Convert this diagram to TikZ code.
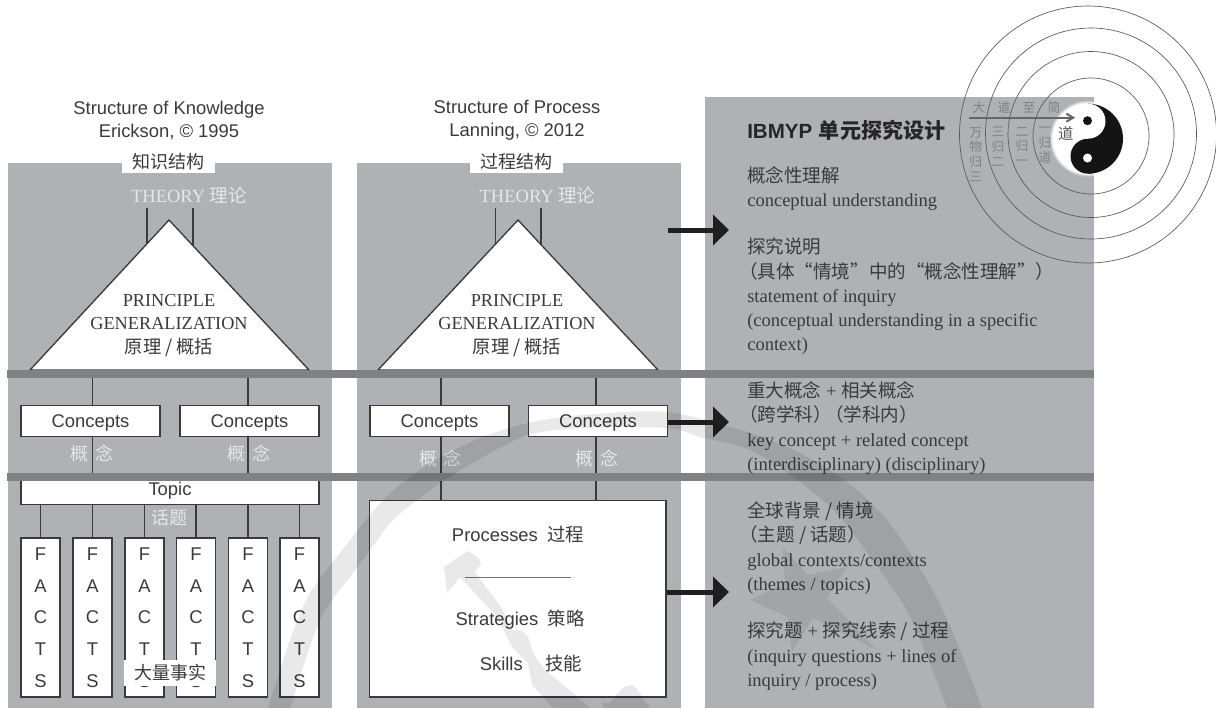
\documentclass[tikz,border=0pt]{standalone}
\usepackage{fontspec}
\usepackage{xcolor}
\usetikzlibrary{arrows.meta,positioning}
\setmainfont{Liberation Serif}
\setsansfont{Liberation Sans}
\newfontfamily\cnfont{Noto Sans CJK SC}
\newcommand{\cn}[1]{{\cnfont #1}}
\definecolor{panelgray}{HTML}{B0B1B5}
\definecolor{bargray}{HTML}{808185}
\definecolor{inkgray}{HTML}{3A3A3C}
\definecolor{palegray}{HTML}{E6E7E8}
\definecolor{daogray}{HTML}{808185}
\tikzset{
  panel/.style={fill=panelgray},
  bar/.style={fill=bargray},
  link/.style={draw=inkgray, line width=1pt},
  plainbox/.style={draw=inkgray, line width=1pt, fill=white, inner sep=0pt, text=inkgray},
  whitebox/.style={plainbox, text height=10pt, text depth=0pt,
    font=\sffamily\fontsize{13.8}{16}\selectfont},
  factbox/.style={plainbox, minimum width=39*.75pt, minimum height=159*.75pt, align=center,
    font=\sffamily\fontsize{13.8}{23.8}\selectfont},
  conceptbox/.style={whitebox, minimum width=139*.75pt, minimum height=31*.75pt},
  sanstext/.style={text=inkgray, inner sep=0pt, font=\sffamily\fontsize{13.8}{17.5}\selectfont, align=center},
  seriftext/.style={text=inkgray, inner sep=0pt, font=\fontsize{13.7}{17.6}\selectfont, align=center},
  paletext/.style={text=palegray, inner sep=0pt, font=\fontsize{13.9}{16}\selectfont},
  palecn/.style={text=palegray, inner sep=0pt, font=\cnfont\fontsize{13.5}{16}\selectfont},
  linetext/.style={text=inkgray, inner sep=0pt, anchor=base west, font=\fontsize{13.9}{16}\selectfont},
  daotext/.style={text=daogray, inner sep=0pt, align=center, font=\cnfont\fontsize{9.6}{11}\selectfont},
  tag/.style={fill=white, inner sep=0pt, text=inkgray, font=\cnfont\fontsize{13.5}{16}\selectfont},
  bigarrow/.style={draw=black!88, line width=5*.75pt, -{Triangle[length=16*.75pt,width=30*.75pt]}},
  ring/.style={draw=black!65, line width=.5pt},
  ghost/.style={fill=black, fill opacity=.085}
}
\begin{document}
\begin{tikzpicture}[x=.75pt,y=-.75pt]
\useasboundingbox (0,0) rectangle (1216,708);
\fill[panel] (8,163) rectangle (332,708);
\fill[panel] (357,163) rectangle (681,708);
\fill[panel] (705,97) rectangle (1094,708);

\node[sanstext] (titleA) at (169,120.5) {Structure of Knowledge\\Erickson, © 1995};
\node[sanstext] (titleB) at (517,120.5) {Structure of Process\\Lanning, © 2012};
\node[tag, minimum width=93*.75pt, minimum height=22*.75pt] (tagA) at (168.5,162) {知识结构};
\node[tag, minimum width=93*.75pt, minimum height=22*.75pt] (tagB) at (516.5,162) {过程结构};
\node[paletext] (theoryA) at (189,195) {THEORY \cn{理论}};
\node[paletext] (theoryB) at (537.5,195) {THEORY \cn{理论}};

% triangles
\coordinate (apexA) at (169,220);
\coordinate (apexB) at (518,220);
\coordinate (baseAl) at (30,370);
\coordinate (baseAr) at (309,370);
\coordinate (baseBl) at (378,370);
\coordinate (baseBr) at (658,370);
\foreach \name/\xx in {thA1/147,thA2/193,thB1/495.5,thB2/541}{
  \coordinate (\name) at (\xx,208);
  \draw[link] (\name) -- ++(0,40);
}
\draw[link,fill=white] (baseAl) -- (apexA) -- (baseAr) -- cycle;
\draw[link,fill=white] (baseBl) -- (apexB) -- (baseBr) -- cycle;
\node[seriftext] (prinA) at (169,325.5) {PRINCIPLE\\GENERALIZATION\\\cn{原理 / 概括}};
\node[seriftext] (prinB) at (517,325.5) {PRINCIPLE\\GENERALIZATION\\\cn{原理 / 概括}};

% concepts
\node[conceptbox] (conA) at (90.5,421) {Concepts};
\node[conceptbox] (conB) at (249.5,421) {Concepts};
\node[conceptbox] (conC) at (439.5,421) {Concepts};
\node[conceptbox] (conD) at (598,421) {Concepts};
\node[whitebox, minimum width=298*.75pt, minimum height=31*.75pt] (topic) at (170,489) {Topic};
\node[plainbox, minimum width=296.5*.75pt, minimum height=196.5*.75pt] (proc) at (517.75,598.75) {};
\foreach \name/\xx/\upper/\lower in {upA/92.5/conA/topic,upB/248/conB/topic,upC/441/conC/proc,upD/596/conD/proc}{
  \coordinate (\name) at (\xx,377);
  \draw[link] (\name) -- (\name |- \upper.north);
  \draw[link] (\name |- \upper.south) -- (\name |- \lower.north);
}
\node[palecn] (gaiA) at (92,454) {概\hspace{5pt}念};
\node[palecn] (gaiB) at (249,454) {概\hspace{5pt}念};
\node[palecn] (gaiC) at (440.5,459) {概\hspace{5pt}念};
\node[palecn] (gaiD) at (597,459) {概\hspace{5pt}念};
\node[palecn] (huati) at (169,518) {话题};

% facts
\foreach \name/\xx in {factA/40.5,factB/92.5,factC/144.5,factD/196,factE/248,factF/299.5}{
  \node[factbox] (\name) at (\xx,617.5) {F\\A\\C\\T\\S};
  \draw[link] (\name.north) -- (\name.north |- topic.south);
}
\node[tag, minimum width=92*.75pt, minimum height=26*.75pt] (dashi) at (170,673) {大量事实};

% process text
\node[sanstext] (tProc) at (518,535) {Processes\hspace{7pt}\cn{过程}};
\coordinate (ruleL) at (465,577.5);
\coordinate (ruleR) at (571,577.5);
\draw[draw=black!55, line width=.6pt] (ruleL) -- (ruleR);
\node[sanstext] (tStra) at (520,620) {Strategies\hspace{7pt}\cn{策略}};
\node[sanstext] (tSkil) at (531,663) {Skills\hspace{17pt}\cn{技能}};

% bars
\fill[bar] (7,369.5) rectangle (1094,377.5);
\fill[bar] (7,473) rectangle (1094,481);

% right column
\node[linetext, text=black!85, font=\sffamily\bfseries\fontsize{15.4}{18}\selectfont] (ibmyp) at (747,138.5) {IBMYP\hspace{5pt}{\cnfont\bfseries\fontsize{15.8}{18}\selectfont 单元探究设计}};
\foreach \yy/\txt in {177/{\cn{概念性理解}},201/{conceptual understanding},248/{\cn{探究说明}},
  273/{\hspace{-6pt}\cn{（具体“情境”中的“概念性理解”）}},297/{statement of inquiry},
  321/{(conceptual understanding in a specific},345/{context)},
  392/{\cn{重大概念} + \cn{相关概念}},416/{\hspace{-6pt}\cn{（跨学科）\hspace{-5pt}（学科内）}},441/{key concept + related concept},
  465/{(interdisciplinary) (disciplinary)},512/{\cn{全球背景 / 情境}},536/{\hspace{-6pt}\cn{（主题 / 话题）}},
  561/{global contexts/contexts},585/{(themes / topics)},632/{\cn{探究题} + \cn{探究线索 / 过程}},
  657/{(inquiry questions + lines of},681/{inquiry / process)}}{
  \node[linetext] (line\yy) at (747,\yy+5.5) {\txt};
}

% arrows
\coordinate (arrS1) at (668,230); \coordinate (arrE1) at (729,230);
\draw[bigarrow] (arrS1) -- (arrE1);
\coordinate (arrE2) at (729,422);
\draw[bigarrow] (conD.east |- arrE2) -- (arrE2);
\coordinate (arrE3) at (729,592);
\draw[bigarrow] (proc.east |- arrE3) -- (arrE3);

% taiji
\foreach \rr/\oo in {38/.25,37/.45,36/.7,35/1}{
  \fill[white, opacity=\oo] (1088,138.7) circle[radius=\rr];
}
\fill[black!92] (1088,173.7) arc[start angle=90,end angle=-90,radius=35] -- cycle;
\fill[black!92] (1088,156.2) circle[radius=17.5];
\fill[white] (1088,121.2) circle[radius=17.5];
\fill[black!92] (1087.5,120.7) circle[radius=4.5];
\fill[white] (1087.5,158) circle[radius=4.5];
\node[text=black!65, inner sep=0pt, font=\cnfont\fontsize{11.5}{14}\selectfont] (dao) at (1065.7,134) {道};

% rings
\draw[ring] (1088,134.5) circle[radius=128.5];
\draw[ring] (1091,133.5) circle[radius=105.5];
\draw[ring] (1091,134.5) circle[radius=83];
\draw[ring] (1091,136) circle[radius=58];

\foreach \name/\xx/\txt in {daA/979/大,daB/1004/道,daC/1029/至,daD/1054/简}{
  \node[daotext] (\name) at (\xx,108) {\txt};
}
\coordinate (daoS) at (969,117.7);
\coordinate (daoE) at (1075,117.7);
\draw[draw=black!60, line width=1.5pt, -{Straight Barb[length=5pt,width=6pt]}] (daoS) -- (daoE);
\node[daotext, anchor=north] (wanwu) at (975.7,127) {万\\物\\归\\三};
\node[daotext, anchor=north] (sangui) at (998,127) {三\\归\\二};
\node[daotext, anchor=north] (ergui) at (1022,127) {二\\归\\一};
\node[daotext, anchor=north] (yigui) at (1045,127) {一\\归\\道};

% watermark
\fill[ghost] plot[smooth] coordinates {(268,708) (290,640) (310,593) (350,540) (383,500) (410,477) (440,457) (483,437) (528,423) (583,415) (667,412) (747,432) (800,453) (847,482) (887,520) (927,580) (953,633) (982,708)}
  -- plot[smooth] coordinates {(947,708) (913,623) (887,580) (840,517) (800,482) (750,450) (700,437) (667,428) (583,428) (528,435) (483,457) (440,483) (417,500) (393,520) (370,550) (350,577) (320,620) (290,708)} -- cycle;
\fill[ghost] (444,567) -- (468,551) to[out=-30,in=100] (481,564) -- (475,572) -- (503,610) -- (512,630) to[out=10,in=120] (528,637) -- (533,653) -- (545,670) -- (573,693) -- (590,708) -- (553,708) -- (532,685) -- (528,663) -- (512,647) -- (497,617) -- (460,577) -- (447,593) -- cycle;
\fill[ghost] (603,708) -- (603,702) to[out=-40,in=180] (630,685) to[out=0,in=-110] (650,703) -- (648,708) -- cycle;
\fill[black, fill opacity=.07] (783,548) -- (808,575) -- (847,567) -- (827,598) -- (877,650) -- (813,618) -- (792,652) -- (788,617) -- (750,600) -- (785,583) -- cycle;
\end{tikzpicture}
\end{document}
